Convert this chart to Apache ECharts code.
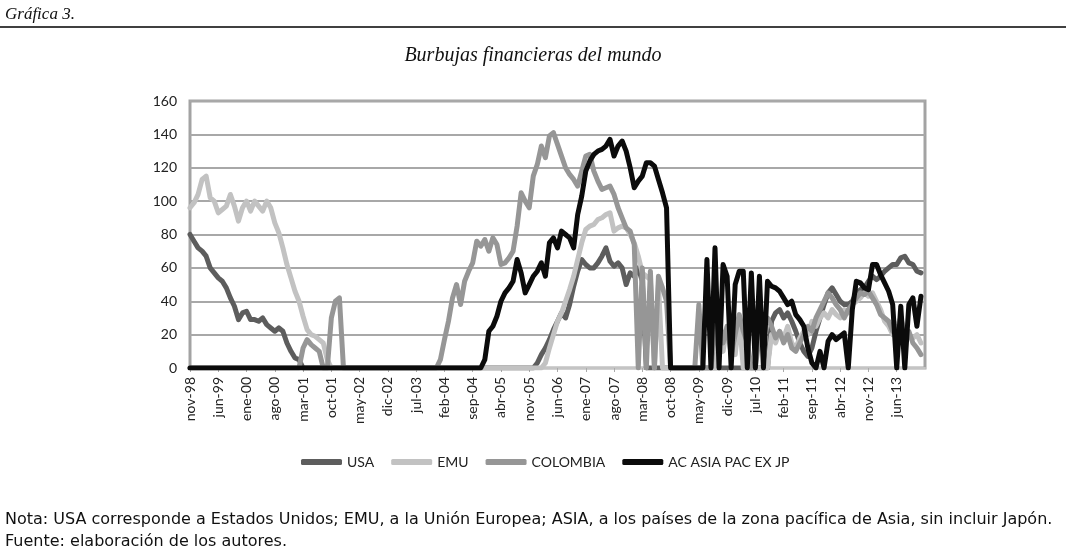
<!DOCTYPE html>
<html lang="es" style="height: 100%">
<head>
  <meta charset="utf-8">
</head>
<body style="height: 100%; margin: 0; background: #fff">
  <div id="container" style="width: 1066px; height: 547px;"></div>

  <script type="text/javascript" src="https://fastly.jsdelivr.net/npm/echarts@6.0.0/dist/echarts.min.js"></script>

  <script type="text/javascript">
    // meses: nov-98 .. ene-14 (un punto por mes)
    var nombresMes = ['ene','feb','mar','abr','may','jun','jul','ago','sep','oct','nov','dic'];
    var meses = [];
    for (var i = 0; i < 183; i++) {
      var k = i + 10;
      meses.push(nombresMes[k % 12] + '-' + String(98 + Math.floor(k / 12)).slice(-2));
    }

    var ticksY = [0, 20, 40, 60, 80, 100, 120, 140, 160];

    var usa = [
      80, 76,
      72, 70, 67, 60, 57, 54, 52, 48, 42, 37, 29, 33,
      34, 29, 29, 28, 30, 26, 24, 22, 24, 22, 15, 10,
      6, 5, 0, 0, 0, 0, 0, 0, 0, 0, 0, 0,
      0, 0, 0, 0, 0, 0, 0, 0, 0, 0, 0, 0,
      0, 0, 0, 0, 0, 0, 0, 0, 0, 0, 0, 0,
      0, 0, 0, 0, 0, 0, 0, 0, 0, 0, 0, 0,
      0, 0, 0, 0, 0, 0, 0, 0, 0, 0, 0, 0,
      3, 8, 12, 17, 23, 28, 33, 30, 38, 49, 58, 65,
      62, 60, 60, 63, 67, 72, 64, 61, 63, 60, 50, 57,
      55, 60, 52, 0, 0, 0, 0, 0, 0, 0, 0, 0,
      0, 0, 0, 0, 0, 0, 0, 0, 0, 0, 0, 0,
      0, 0, 0, 0, 0, 0, 0, 0, 0, 0, 28, 33,
      35, 30, 33, 28, 22, 15, 10, 7, 12, 22, 30, 38,
      45, 48, 44, 40, 38, 38, 40, 45, 47, 48, 52, 55,
      53, 55, 58, 60, 62, 62, 66, 67, 63, 62, 58, 57,
      null
    ];

    var emu = [
      96, 99,
      104, 113, 115, 102, 100, 93, 95, 97, 104, 97, 88, 96,
      100, 94, 100, 97, 94, 100, 96, 87, 81, 72, 62, 54,
      46, 40, 31, 23, 20, 19, 17, 15, 5, 0, 0, 0,
      0, 0, 0, 0, 0, 0, 0, 0, 0, 0, 0, 0,
      0, 0, 0, 0, 0, 0, 0, 0, 0, 0, 0, 0,
      0, 0, 0, 0, 0, 0, 0, 0, 0, 0, 0, 0,
      0, 0, 0, 0, 0, 0, 0, 0, 0, 0, 0, 0,
      0, 0, 3, 12, 20, 28, 33, 40, 47, 55, 65, 75,
      83, 85, 86, 89, 90, 92, 93, 82, 84, 85, 84, 80,
      75, 67, 57, 55, 53, 0, 50, 0, 0, 0, 0, 0,
      0, 0, 0, 0, 0, 0, 0, 0, 0, 15, 10, 25,
      20, 8, 30, 0, 0, 0, 0, 0, 0, 0, 20, 15,
      22, 18, 25, 15, 12, 18, 22, 20, 28, 25, 30, 33,
      30, 35, 32, 30, 35, 33, 38, 40, 42, 45, 43, 45,
      40, 35, 28, 25, 20, 25, 30, 22, 20, 18, 20, 15,
      null
    ];

    var colombia = [
      0, 0,
      0, 0, 0, 0, 0, 0, 0, 0, 0, 0, 0, 0,
      0, 0, 0, 0, 0, 0, 0, 0, 0, 0, 0, 0,
      0, 0, 12, 17, 14, 12, 10, 0, 0, 30, 40, 42,
      0, 0, 0, 0, 0, 0, 0, 0, 0, 0, 0, 0,
      0, 0, 0, 0, 0, 0, 0, 0, 0, 0, 0, 0,
      5, 17, 28, 42, 50, 38, 52, 58, 63, 76, 73, 77,
      70, 78, 74, 62, 63, 66, 70, 85, 105, 100, 96, 115,
      122, 133, 126, 139, 141, 134, 127, 120, 116, 113, 109, 118,
      127, 128, 118, 112, 107, 108, 109, 104, 96, 90, 84, 82,
      74, 0, 60, 0, 58, 0, 55, 48, 40, 0, 0, 0,
      0, 0, 0, 0, 38, 0, 0, 0, 22, 30, 15, 25,
      8, 20, 32, 22, 15, 0, 0, 20, 25, 30, 25, 18,
      22, 15, 20, 12, 10, 15, 20, 25, 22, 30, 35, 40,
      45, 42, 38, 35, 30, 35, 38, 42, 45, 44, 46, 42,
      38, 32, 30, 28, 22, 25, 20, 18, 22, 15, 12, 8,
      null
    ];

    var asia = [
      0, 0,
      0, 0, 0, 0, 0, 0, 0, 0, 0, 0, 0, 0,
      0, 0, 0, 0, 0, 0, 0, 0, 0, 0, 0, 0,
      0, 0, 0, 0, 0, 0, 0, 0, 0, 0, 0, 0,
      0, 0, 0, 0, 0, 0, 0, 0, 0, 0, 0, 0,
      0, 0, 0, 0, 0, 0, 0, 0, 0, 0, 0, 0,
      0, 0, 0, 0, 0, 0, 0, 0, 0, 0, 0, 5,
      22, 25, 31, 40, 45, 48, 52, 65, 57, 45, 50, 55,
      58, 63, 55, 75, 78, 72, 82, 80, 78, 72, 92, 103,
      118, 124, 128, 130, 131, 133, 137, 127, 133, 136, 130, 120,
      108, 112, 115, 123, 123, 121, 113, 105, 96, 0, 0, 0,
      0, 0, 0, 0, 0, 0, 65, 0, 72, 0, 62, 55,
      0, 50, 58, 58, 0, 57, 0, 55, 0, 52, 49, 48,
      46, 42, 38, 40, 32, 29, 25, 12, 3, 0, 10, 0,
      16, 20, 17, 19, 21, 0, 35, 52, 51, 48, 47, 62,
      62, 56, 51, 46, 38, 0, 37, 0, 38, 42, 25, 43,
      null
    ];

    var nombres = ['USA', 'EMU', 'COLOMBIA', 'AC ASIA PAC EX JP'];
    var colores = ['#5d5d5d', '#c2c2c2', '#969696', '#0b0b0b'];
    var valores = [usa, emu, colombia, asia];

    var dom = document.getElementById('container');
    var myChart = echarts.init(dom, null, { renderer: 'canvas' });
    var option;

    var fuente = 'Lato, "Open Sans", sans-serif';
    // una etiqueta cada 7 meses, sin la del ultimo punto
    var cadaSiete = function (idx) { return idx % 7 === 0 && idx < 180; };

    option = {
      animation: false,
      backgroundColor: '#ffffff',
      title: [
        {
          text: 'Gráfica 3.',
          left: 0, top: 1,
          textStyle: { fontFamily: '"Liberation Serif", serif', fontStyle: 'italic', fontWeight: 'normal', fontSize: 17, color: '#111' }
        },
        {
          text: 'Burbujas financieras del mundo',
          left: 'center', top: 41,
          textStyle: { fontFamily: '"Liberation Serif", serif', fontStyle: 'italic', fontWeight: 'normal', fontSize: 20, color: '#111' }
        },
        {
          text: 'Nota: USA corresponde a Estados Unidos; EMU, a la Unión Europea; ASIA, a los países de la zona pacífica de Asia, sin incluir Japón.',
          left: 0, top: 507,
          textStyle: { fontFamily: '"DejaVu Sans", sans-serif', fontWeight: 'normal', fontSize: 16, color: '#111' }
        },
        {
          text: 'Fuente: elaboración de los autores.',
          left: 0, top: 529,
          textStyle: { fontFamily: '"DejaVu Sans", sans-serif', fontWeight: 'normal', fontSize: 16, color: '#111' }
        }
      ],
      graphic: [
        {
          type: 'line',
          shape: { x1: 0, y1: 27, x2: 1066, y2: 27 },
          style: { stroke: '#000', lineWidth: 1.5 }
        }
      ],
      legend: {
        left: 296, top: 450,
        itemWidth: 41, itemHeight: 6, itemGap: 17,
        icon: 'roundRect',
        textStyle: { fontFamily: fuente, fontSize: 14, color: '#222' },
        data: nombres
      },
      grid: {
        left: 190, right: 141, top: 101, bottom: 179,
        show: true, borderColor: '#a3a3a3', borderWidth: 3
      },
      xAxis: {
        type: 'category',
        data: meses,
        boundaryGap: false,
        axisLine: { lineStyle: { color: '#c4c4c4', width: 2 } },
        axisTick: { show: true, interval: cadaSiete, length: 4, lineStyle: { color: '#aaa' } },
        axisLabel: { interval: cadaSiete, rotate: 90, margin: 9, fontFamily: fuente, fontSize: 14, color: '#222' },
        splitLine: { show: false }
      },
      yAxis: {
        type: 'value',
        min: ticksY[0], max: ticksY[ticksY.length - 1], interval: 20,
        axisLine: { show: false },
        axisTick: { show: false },
        axisLabel: { margin: 13, fontFamily: fuente, fontSize: 14, color: '#222' },
        splitLine: { lineStyle: { color: '#a8a8a8', width: 2 } }
      },
      series: []
    };

    for (var s = 0; s < nombres.length; s++) {
      option.series.push({
        name: nombres[s],
        type: 'line',
        data: valores[s],
        symbol: 'none',
        color: colores[s],
        itemStyle: { color: colores[s] },
        lineStyle: { color: colores[s], width: 5, join: 'round', cap: 'round' }
      });
    }

    if (option && typeof option === 'object') {
      myChart.setOption(option);
    }

    window.addEventListener('resize', myChart.resize);
  </script>
</body>
</html>
